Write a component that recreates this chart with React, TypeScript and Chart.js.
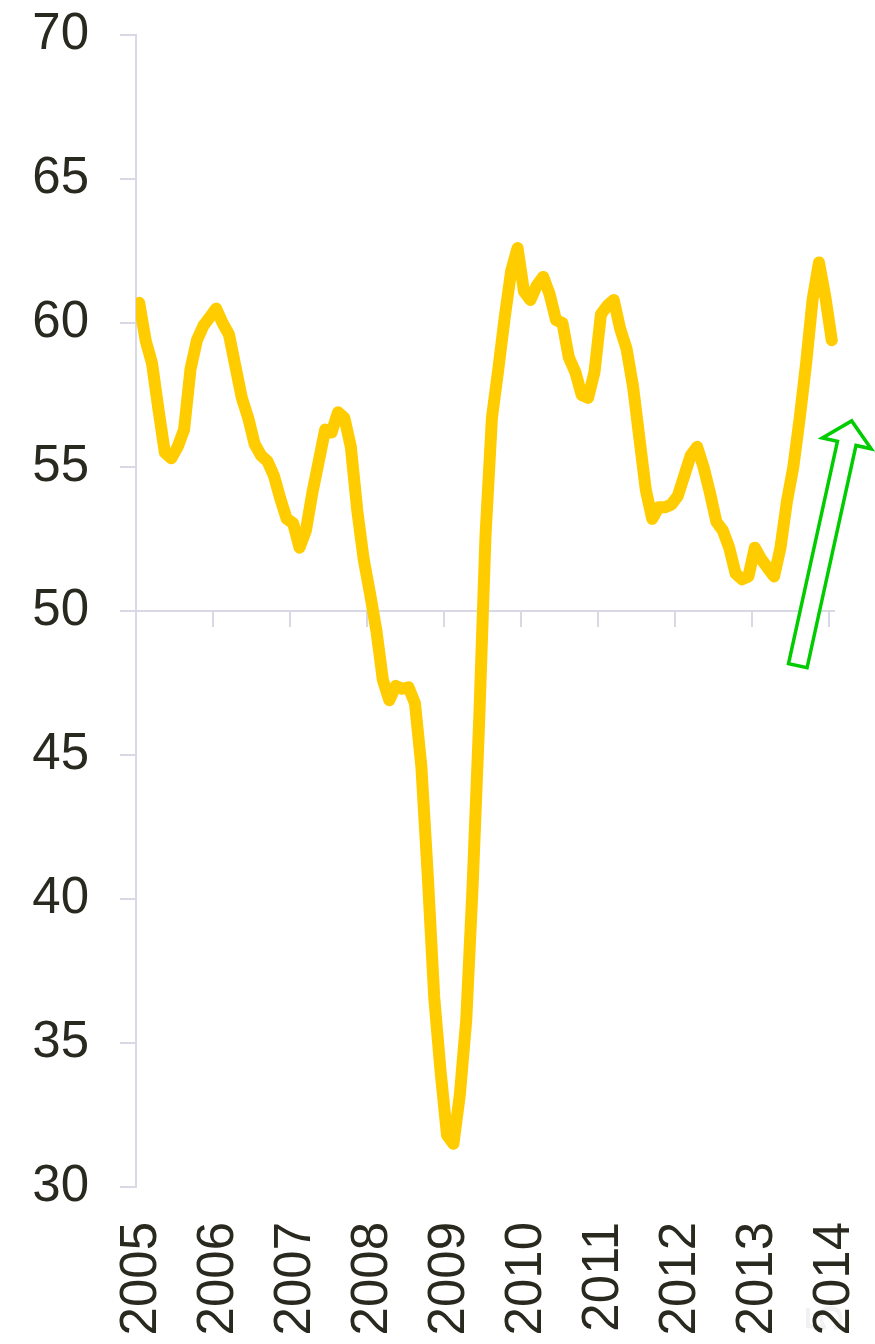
import React, { useEffect, useRef } from "react";
import { Chart, registerables } from "chart.js";

Chart.register(...registerables);

// Year tick labels (one tick every 12 months, starting at Jan 2005)
const years = ["2005", "2006", "2007", "2008", "2009", "2010", "2011", "2012", "2013", "2014"];

// Monthly index values, Jan 2005 .. Jan 2014
const values2005 = [60.7, 59.4, 58.6, 57.0, 55.5, 55.3, 55.7, 56.3, 58.4, 59.4, 59.9, 60.2];
const values2006 = [60.5, 60.0, 59.6, 58.5, 57.4, 56.7, 55.8, 55.4, 55.2, 54.7, 53.9, 53.2];
const values2007 = [53.05, 52.2, 52.8, 54.1, 55.2, 56.3, 56.2, 56.9, 56.7, 55.7, 53.5, 51.8];
const values2008 = [50.6, 49.3, 47.6, 46.9, 47.4, 47.3, 47.35, 46.8, 44.6, 40.8, 36.6, 34.0];
const values2009 = [31.8, 31.5, 33.2, 35.8, 40.5, 46.1, 52.6, 56.7, 58.4, 60.2, 61.8, 62.6];
const values2010 = [61.1, 60.8, 61.3, 61.6, 61.0, 60.1, 60.0, 58.8, 58.3, 57.5, 57.4, 58.3];
const values2011 = [60.3, 60.6, 60.8, 59.8, 59.1, 57.8, 56.0, 54.2, 53.2, 53.6, 53.6, 53.7];
const values2012 = [54.0, 54.7, 55.4, 55.7, 55.0, 54.1, 53.1, 52.8, 52.2, 51.3, 51.1, 51.2];
const values2013 = [52.2, 51.8, 51.5, 51.2, 52.2, 53.8, 55.0, 56.7, 58.6, 60.8, 62.1, 60.9];
const values2014 = [59.4];

const values = [
  ...values2005, ...values2006, ...values2007, ...values2008, ...values2009,
  ...values2010, ...values2011, ...values2012, ...values2013, ...values2014,
];

// Axis range and reference level
const yMin = 30;
const yMax = 70;
const yStep = 5;
const referenceLevel = 50;
const monthsShown = 109;

// Annotation arrow (data units: month index, index value)
const arrowTail = { x: 103.2, y: 48.1 };
const arrowTip = { x: 111.6, y: 56.6 };

const watermark = "5";

export default function App() {
  const canvasRef = useRef<HTMLCanvasElement | null>(null);

  useEffect(() => {
    const canvas = canvasRef.current;
    if (!canvas) return;

    const axisColor = "#d9d9e6";
    const textColor = "#29291f";
    const fontFamily = "'Liberation Sans', Arial, Helvetica, sans-serif";

    const watermarkPlugin = {
      id: "pageMark",
      beforeDraw(chart: any) {
        const { ctx } = chart;
        ctx.save();
        ctx.fillStyle = "#f1f1f1";
        ctx.font = `51px ${fontFamily}`;
        ctx.textAlign = "center";
        ctx.textBaseline = "middle";
        ctx.translate(828, 1318);
        ctx.rotate(-Math.PI / 2);
        ctx.fillText(watermark, 0, 0);
        ctx.restore();
      },
    };

    const referencePlugin = {
      id: "referenceLine",
      beforeDatasetsDraw(chart: any) {
        const { ctx, chartArea, scales } = chart;
        const y = scales.y.getPixelForValue(referenceLevel);
        ctx.save();
        ctx.strokeStyle = axisColor;
        ctx.lineWidth = 2;
        ctx.beginPath();
        ctx.moveTo(chartArea.left, y);
        ctx.lineTo(chartArea.right, y);
        scales.x.ticks.forEach((t: any) => {
          const x = Math.round(scales.x.getPixelForValue(t.value));
          ctx.moveTo(x, y);
          ctx.lineTo(x, y + 16);
        });
        ctx.stroke();
        ctx.restore();
      },
    };

    const arrowPlugin = {
      id: "arrowAnnotation",
      afterDraw(chart: any) {
        const { ctx, scales } = chart;
        const tx = scales.x.getPixelForValue(arrowTail.x);
        const ty = scales.y.getPixelForValue(arrowTail.y);
        const hx = scales.x.getPixelForValue(arrowTip.x);
        const hy = scales.y.getPixelForValue(arrowTip.y);
        const len = Math.hypot(hx - tx, hy - ty);
        const dx = (hx - tx) / len;
        const dy = (hy - ty) / len;
        const nx = -dy;
        const ny = dx;
        const shaftHalf = 9.5;
        const headHalf = 25;
        const headLen = 23;
        const bx = hx - dx * headLen;
        const by = hy - dy * headLen;
        const pts = [
          [tx - nx * shaftHalf, ty - ny * shaftHalf],
          [bx - nx * shaftHalf, by - ny * shaftHalf],
          [bx - nx * headHalf, by - ny * headHalf],
          [hx, hy],
          [bx + nx * headHalf, by + ny * headHalf],
          [bx + nx * shaftHalf, by + ny * shaftHalf],
          [tx + nx * shaftHalf, ty + ny * shaftHalf],
        ];
        ctx.save();
        ctx.beginPath();
        pts.forEach(([px, py], k) => (k === 0 ? ctx.moveTo(px, py) : ctx.lineTo(px, py)));
        ctx.closePath();
        ctx.fillStyle = "#ffffff";
        ctx.fill();
        ctx.strokeStyle = "#00cc00";
        ctx.lineWidth = 3.5;
        ctx.lineJoin = "miter";
        ctx.stroke();
        ctx.restore();
      },
    };

    const chart = new Chart(canvas, {
      type: "line",
      data: {
        datasets: [
          {
            data: values.map((v, i) => ({ x: i + 0.5, y: v })),
            borderColor: "#ffcc00",
            backgroundColor: "#ffcc00",
            borderWidth: 12,
            pointRadius: 0,
            pointHoverRadius: 0,
            tension: 0,
            borderJoinStyle: "round",
            borderCapStyle: "round",
            clip: { left: 0, top: false, right: false, bottom: false } as any,
          },
        ],
      },
      options: {
        responsive: false,
        animation: false,
        devicePixelRatio: 1,
        layout: { padding: { top: 35, right: 40, left: 0, bottom: 0 } },
        plugins: {
          legend: { display: false },
          tooltip: { enabled: false },
          title: { display: false },
        },
        scales: {
          x: {
            type: "linear",
            min: 0,
            max: monthsShown,
            afterBuildTicks: (scale: any) => {
              scale.ticks = years.map((_, k) => ({ value: k * 12 }));
            },
            afterFit: (scale: any) => {
              scale.height = 157;
              scale.paddingLeft = 0;
              scale.paddingRight = 0;
            },
            grid: { display: false, drawTicks: false },
            border: { display: false },
            ticks: {
              autoSkip: false,
              minRotation: 90,
              maxRotation: 90,
              padding: 35,
              labelOffset: 6,
              color: textColor,
              font: { family: fontFamily, size: 51 },
              callback: (value: any) => years[Math.round(Number(value) / 12)],
            },
          },
          y: {
            type: "linear",
            min: yMin,
            max: yMax,
            afterFit: (scale: any) => {
              scale.width = 136;
              scale.paddingTop = 0;
              scale.paddingBottom = 0;
            },
            grid: {
              display: true,
              drawOnChartArea: false,
              drawTicks: true,
              tickLength: 16,
              color: axisColor,
              lineWidth: 2,
            },
            border: { display: true, color: axisColor, width: 2 },
            ticks: {
              stepSize: yStep,
              padding: 31,
              color: textColor,
              font: { family: fontFamily, size: 51 },
            },
          },
        },
      },
      plugins: [watermarkPlugin, referencePlugin, arrowPlugin],
    });

    return () => chart.destroy();
  }, []);

  return (
    <div style={{ position: "absolute", left: 0, top: 0, width: 875, height: 1344, background: "#ffffff" }}>
      <canvas ref={canvasRef} width={875} height={1344} />
    </div>
  );
}
